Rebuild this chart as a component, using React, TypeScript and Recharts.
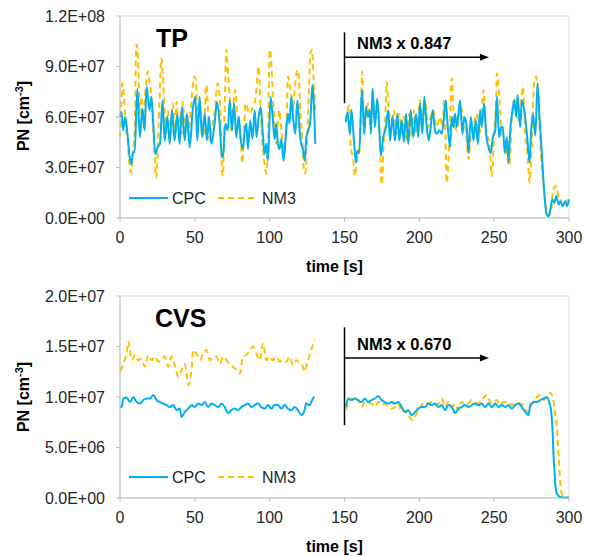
import React from 'react';
import { LineChart, Line, XAxis, YAxis, ReferenceArea, ReferenceLine } from 'recharts';

// values in 1e6 cm^-3, [time s, value]; each run is split in two parts (0-130 s, 150-300 s)
const tpCpcA: [number, number][] = [
  [0, 60], [1, 63], [2, 52], [3.5, 60], [5, 50], [6.5, 36], [7.6, 32], [8.7, 39], [9.8, 39], [11.6, 77],
  [13.3, 48], [15, 65], [16.4, 52], [17.8, 78], [19.6, 64], [21, 72], [22.2, 56], [23.6, 38], [25, 42], [26.7, 44],
  [28.4, 70], [29.8, 46], [31.6, 60], [33.2, 44], [34.7, 64], [36.5, 46], [38.3, 62], [39.8, 44], [41.4, 66], [43.2, 46],
  [44.8, 62], [46.5, 42], [48.8, 66], [50.3, 72], [51.7, 46], [53.2, 72], [54.8, 48], [56.6, 62], [58.1, 46], [59.5, 60],
  [61, 44], [63.2, 56], [64.8, 69], [66.6, 56], [68.1, 36], [69, 38], [70.4, 56], [72, 52], [73.3, 70], [74.8, 52],
  [76.2, 68], [77.7, 48], [79.3, 60], [80.6, 47], [82.2, 41], [83.3, 52], [84.4, 56], [85.5, 41], [87, 58], [88.5, 47],
  [90, 64], [91.2, 48], [92.6, 60], [94, 66], [95.3, 52], [96.6, 38], [97.8, 44], [98.9, 34], [100.6, 72], [102, 60],
  [103.3, 47], [104.4, 56], [105.5, 44], [106.6, 41], [107.8, 47], [109.3, 34], [111, 52], [112.3, 62], [113.3, 56], [114.4, 72],
  [115.6, 60], [117.1, 50], [118.5, 70], [120, 52], [121, 44], [122.2, 41], [123.4, 34], [124.5, 48], [125.8, 52], [127.2, 58],
  [128.5, 79], [129.5, 68], [130.5, 44],
];
const tpCpcB: [number, number][] = [
  [150.9, 57], [152, 63], [153.6, 50], [154.7, 64], [156.3, 46], [157.6, 33], [158.5, 40], [159.8, 38.5], [161.6, 76], [163.2, 50],
  [164.3, 66], [165.8, 60], [167, 64], [167.6, 50], [168.8, 77], [170.3, 54], [171.9, 71], [173.2, 54], [174.3, 37], [175.9, 48],
  [177.7, 54], [179.2, 64], [180.4, 46], [182.1, 60], [183.7, 46], [185.3, 62], [186.6, 46], [188.2, 58], [189.7, 45], [191.1, 62],
  [192.6, 44], [194.2, 64], [196, 48], [197.8, 62], [199.3, 48], [200.4, 68], [202, 50], [203.3, 72], [204.9, 54], [206.3, 46],
  [207.6, 54], [208.9, 64], [210.5, 52], [211.6, 50], [213.4, 52], [215, 50], [216.5, 60], [217.6, 70], [219, 54], [220.5, 42],
  [221.7, 60], [222.8, 54], [223.9, 62], [225, 54], [227.2, 70], [228.8, 50], [230.1, 60], [231.7, 54], [232.8, 38.5], [234.4, 60],
  [236.2, 46], [237.7, 58], [239.1, 44], [240.6, 64], [241.7, 54], [243.3, 68], [244.6, 50], [246.2, 42], [247.8, 38.5], [249.1, 48],
  [250.7, 52], [251.8, 72], [253.3, 48], [254.7, 54], [255.8, 54], [257.1, 38.5], [258.5, 48], [259.6, 33], [260.7, 52], [262.3, 64],
  [263.4, 70], [264.7, 60], [265.6, 73], [267.4, 54], [268.5, 70], [270.1, 64], [271.9, 50], [273.7, 33], [274.6, 50], [275.9, 62],
  [277.5, 49], [279, 80], [280.4, 58], [281.3, 46], [282.6, 27], [283.7, 13], [284.8, 3], [286.2, 1], [287.5, 5], [288.8, 11],
  [290.2, 9], [291.5, 13], [293.1, 8], [294.2, 10], [295.8, 7], [297.5, 10], [298.7, 7], [300, 11],
];
const tpNm3A: [number, number][] = [
  [0, 48], [0.8, 66], [1.5, 80], [2.7, 72], [3.6, 56], [5, 47], [6.5, 30], [7.3, 27], [8.7, 40], [9.8, 52],
  [10.9, 103], [12, 96], [12.6, 79], [13.2, 62], [14.2, 72], [15.4, 60], [17, 76], [18.7, 87], [19.8, 80], [20.6, 76],
  [21.4, 66], [22.6, 46], [24.3, 24], [25.4, 46], [26.5, 72], [27.6, 95], [28.6, 86], [29.8, 64], [31, 50], [32, 64],
  [33.5, 48], [35.4, 68], [36.8, 50], [37.8, 69], [39, 52], [40.4, 63], [41.2, 50], [42, 69], [43.4, 50], [44.6, 62],
  [46, 48], [47.4, 66], [49.8, 84], [50.8, 80], [51.8, 60], [52.8, 58], [53.8, 62], [54.8, 52], [56, 48], [57.7, 79],
  [58.8, 64], [59.8, 46], [61.5, 54], [63.2, 62], [65.2, 80], [66.2, 76], [67.2, 60], [68.1, 28], [68.8, 25], [69.5, 48],
  [70.4, 82], [71, 100], [72, 88], [73.3, 72], [74.4, 52], [75.5, 64], [77, 76], [78.3, 64], [79.2, 60], [80.6, 47],
  [81.7, 32.5], [82.8, 49], [83.9, 68], [85, 66], [86.6, 62], [88.8, 66], [90.5, 71], [91.8, 84], [92.6, 90], [94, 64],
  [95.1, 44], [96.6, 32.5], [97.8, 26.5], [98.9, 47], [100, 100], [101.1, 92], [102.2, 72], [103.3, 56], [104.4, 44], [105.5, 56],
  [106.6, 64], [107.8, 52], [108.9, 44], [110, 40], [111.1, 52], [112.3, 84], [113.3, 80], [114.4, 74], [115.6, 64], [116.7, 76],
  [118.5, 88], [119.4, 84], [120.7, 60], [121.8, 48], [123, 28], [123.9, 26.5], [125.2, 52], [126.1, 72], [127.2, 98], [128.3, 100],
  [129.4, 82], [130.5, 64],
];
const tpNm3B: [number, number][] = [
  [150.9, 58], [152, 64], [153.1, 67], [154.2, 42], [155.8, 35], [156.9, 25], [158.5, 35], [159.8, 38.5], [161.2, 70], [161.8, 87],
  [163.2, 50], [164.7, 64], [165.8, 68], [167.4, 54], [168.8, 70], [170.3, 62], [171.9, 64], [173.7, 44], [174.8, 20], [176.3, 46],
  [177.7, 70], [178.1, 81], [179.9, 62], [181.5, 58], [183, 64], [184.8, 50], [186.6, 62], [188.2, 50], [189.7, 60], [191.5, 46],
  [193.3, 62], [194.9, 48], [196.4, 64], [198.2, 50], [200.4, 70], [202, 54], [203.8, 70], [206, 54], [207.6, 60], [209.4, 64],
  [211.6, 54], [213.8, 60], [215.6, 54], [216.5, 70], [217.4, 50], [218.3, 21], [220.1, 46], [221.7, 83], [223.2, 58], [225, 52],
  [227.2, 66], [229.5, 60], [231.3, 50], [232.8, 35], [234.4, 48], [236.2, 54], [238.4, 62], [240.2, 50], [241.7, 64], [242.9, 76],
  [244.6, 52], [246.9, 44], [248.4, 25], [250, 50], [251.3, 70], [251.8, 86], [253.6, 70], [255.1, 50], [257.4, 44], [258.9, 35],
  [260.3, 31], [261.8, 60], [263.4, 70], [265.2, 66], [266.3, 58], [267.4, 64], [269.2, 78], [270.8, 50], [272.3, 37], [273.7, 21],
  [275.2, 46], [276.8, 82], [278.1, 84], [279, 76], [280.4, 54], [281.3, 37], [282.6, 23], [284.2, 9], [285.3, 3], [286.4, 1],
  [287.9, 3], [289.3, 15], [290.8, 19], [292, 17], [293.8, 9], [295.3, 11], [297.5, 10], [300, 11],
];

const cvsCpcA: [number, number][] = [
  [0, 9.0], [1.1, 9.0], [2.2, 9.85], [4.4, 9.95], [6.7, 9.5], [8.9, 10.0], [11.1, 9.5], [13.3, 9.35], [15.6, 9.7], [17.8, 9.85],
  [20, 9.85], [22.2, 10.2], [24.4, 9.7], [26.7, 9.5], [28.9, 9.35], [31.1, 9.2], [33.3, 9.0], [35.6, 9.2], [37.8, 8.7], [40, 8.85],
  [41.1, 8.0], [43.3, 8.5], [45.6, 8.85], [47.8, 9.2], [50, 9.0], [52.2, 9.35], [54.4, 9.2], [56.7, 9.5], [58.9, 9.0], [61.1, 9.35],
  [63.3, 9.2], [65.6, 9.0], [67.8, 9.35], [70, 9.0], [72.2, 8.4], [74.4, 8.7], [76.7, 8.85], [78.9, 8.7], [81.1, 9.0], [83.3, 9.2],
  [85.6, 9.35], [87.8, 9.0], [90, 9.2], [92.2, 9.35], [94.4, 9.0], [96.7, 8.85], [98.9, 9.2], [101.1, 8.85], [103.3, 9.2], [105.6, 9.2],
  [107.8, 8.85], [110, 9.2], [112.2, 8.85], [114.4, 8.7], [116.7, 9.0], [118.9, 8.7], [121.1, 8.2], [123.3, 8.7], [124.4, 9.35], [126.7, 9.2],
  [128.9, 9.85], [130, 10.0],
];
const cvsCpcB: [number, number][] = [
  [150.9, 9.0], [152.5, 9.85], [154.7, 9.7], [156.9, 9.85], [159.2, 9.7], [161.4, 9.5], [163.6, 9.85], [165.8, 9.5], [168.1, 9.7], [170.3, 9.85],
  [172.5, 10.1], [174.8, 9.7], [177, 9.5], [179.2, 9.35], [181.5, 9.5], [183.7, 9.35], [185.9, 9.5], [188.2, 9.0], [190.4, 8.5], [192.6, 8.7],
  [194.9, 8.2], [197.1, 8.5], [199.3, 8.85], [201.6, 9.0], [203.8, 9.0], [206, 9.35], [208.3, 9.2], [210.5, 9.35], [212.7, 9.0], [215, 9.2],
  [217.2, 8.7], [219.4, 9.2], [221.7, 9.0], [223.9, 8.4], [226.1, 8.85], [228.3, 9.0], [230.6, 9.2], [232.8, 9.0], [235, 9.2], [237.3, 9.35],
  [239.5, 9.2], [241.7, 9.35], [244, 9.0], [246.2, 9.35], [248.4, 9.0], [250.7, 9.35], [252.9, 9.0], [255.1, 9.2], [257.4, 9.0], [259.6, 9.2],
  [261.8, 8.85], [264.1, 9.2], [266.3, 9.35], [268.5, 9.0], [270.8, 8.5], [273, 8.2], [274.1, 9.2], [276.3, 9.5], [278.6, 9.5], [280.8, 9.7],
  [283, 9.85], [285.3, 10.0], [287, 9.35], [288, 8.7], [288.6, 7.7], [289.3, 5.7], [289.7, 4.1], [290.4, 2.4], [290.8, 1.4], [292, 0.4],
  [294.2, 0.1], [300, 0.03],
];
const cvsNm3A: [number, number][] = [
  [0, 12.6], [1.1, 12.8], [2.7, 13.5], [4.4, 14.3], [5.6, 15.5], [6.7, 14.6], [7.8, 13.65], [10, 14.15], [12.2, 13.65], [14.4, 13.8],
  [16.7, 13.0], [18.9, 14.15], [21.1, 13.65], [23.3, 14.0], [25.6, 13.5], [27.8, 13.65], [30, 14.0], [32.2, 13.0], [34.4, 14.0], [36.7, 13.15],
  [38.9, 12.0], [41.1, 12.65], [43.3, 13.3], [45.6, 11.2], [47.8, 12.65], [48.9, 14.65], [51.1, 14.3], [53.3, 13.65], [55.6, 14.3], [57.8, 14.65],
  [60, 13.65], [62.2, 14.0], [64.4, 14.0], [66.7, 13.3], [68.9, 14.0], [71.1, 13.65], [73.3, 13.3], [75.6, 13.0], [77.8, 12.65], [80, 12.3],
  [82.2, 14.0], [84.4, 14.15], [86.7, 14.65], [88.9, 15.0], [91.1, 14.3], [93.3, 13.65], [95.6, 15.3], [97.8, 13.65], [100, 14.0], [102.2, 13.65],
  [104.4, 14.0], [106.7, 13.5], [108.9, 13.65], [111.1, 13.5], [113.3, 14.0], [115.6, 13.15], [117.8, 13.65], [120, 13.3], [122.2, 13.0], [123.3, 12.5],
  [125.6, 13.65], [127.8, 14.65], [130, 15.65],
];
const cvsNm3B: [number, number][] = [
  [150.9, 8.7], [152.5, 9.35], [154.7, 9.85], [156.9, 9.5], [159.2, 9.7], [161.4, 9.0], [163.6, 9.5], [165.8, 9.35], [168.1, 9.35], [170.3, 9.0],
  [172.5, 9.5], [174.8, 9.2], [177, 9.35], [179.2, 9.0], [181.5, 8.85], [183.7, 9.0], [185.9, 9.35], [188.2, 8.5], [190.4, 8.7], [192.6, 8.2],
  [194.4, 7.85], [196, 7.7], [197.1, 8.0], [199.3, 8.7], [201.6, 9.2], [203.8, 9.5], [206, 9.35], [208.3, 9.5], [210.5, 9.2], [212.7, 9.35],
  [215, 9.85], [217.2, 9.0], [219.4, 9.5], [221.7, 9.0], [223.9, 9.35], [226.1, 8.7], [228.3, 9.5], [230.6, 9.2], [232.8, 9.35], [235, 9.7],
  [237.3, 9.5], [239.5, 9.35], [241.7, 9.7], [245.1, 10.2], [247.3, 9.5], [249.6, 9.35], [251.8, 9.7], [254, 9.2], [256.3, 9.5], [258.5, 9.5],
  [260.7, 9.35], [262.9, 9.2], [265.2, 9.5], [267.4, 9.35], [269.6, 9.2], [271.9, 8.5], [274.1, 9.0], [276.3, 9.5], [278.6, 10.0], [280.8, 10.2],
  [283, 9.7], [285.3, 10.0], [287.5, 10.4], [288.6, 10.2], [289.7, 9.5], [290.8, 8.35], [292, 6.7], [293.1, 4.1], [294.2, 1.4], [295.3, 0.4],
  [297.5, 0.1], [300, 0.03],
];

const TIME_TICKS = [0, 50, 100, 150, 200, 250, 300];
const TP_TICKS = [0, 3e7, 6e7, 9e7, 1.2e8];
const CVS_TICKS = [0, 5e6, 1e7, 1.5e7, 2e7];
const GAP_T = 140;

// annotation: [scale factor text, bar top, bar bottom, arrow level, arrow end time]
const TP_NOTE = { text: 'NM3 x 0.847', top: 1.103e8, bottom: 6.82e7, arrowY: 9.55e7, arrowEnd: 246.5 };
const CVS_NOTE = { text: 'NM3 x 0.670', top: 1.69e7, bottom: 7.2e6, arrowY: 1.386e7, arrowEnd: 246.5 };

const CPC_COLOR = '#00B0F0';
const NM3_COLOR = '#FFC000';
const FONT = 'Arial, "Liberation Sans", sans-serif';
const AXIS_COLOR = '#BFBFBF';

const toRows = (a: [number, number][], b: [number, number][]) => [
  ...a.map(([t, v]) => ({ t, v: v * 1e6 })),
  { t: GAP_T, v: null },
  ...b.map(([t, v]) => ({ t, v: v * 1e6 })),
];

const sciFormat = (v: number) => {
  const [m, e] = v.toExponential(1).split('e');
  const n = parseInt(e, 10);
  return `${m}E${n < 0 ? '-' : '+'}${String(Math.abs(n)).padStart(2, '0')}`;
};

const Arrow = (props: any) => {
  const { x1, y1, x2, y2, text } = props;
  return (
    <g>
      <line x1={x1} y1={y1} x2={x2 - 7} y2={y2} stroke="#000" strokeWidth={1.5} />
      <polygon points={`${x2},${y2} ${x2 - 9},${y2 - 3.5} ${x2 - 9},${y2 + 3.5}`} fill="#000" />
      <text x={x1 + 12.5} y={y1 - 8.5} fontFamily={FONT} fontWeight="bold" fontSize={16.5} fill="#000">
        {text}
      </text>
    </g>
  );
};

interface PanelProps {
  cpc: any[];
  nm3: any[];
  yMax: number;
  yTicks: number[];
  note: typeof TP_NOTE;
}

const Panel = ({ cpc, nm3, yMax, yTicks, note }: PanelProps) => (
  <LineChart width={592} height={278} margin={{ top: 16, right: 23, bottom: 30, left: 0 }}>
    <ReferenceArea x1={0} x2={300} y1={0} y2={yMax} fill="none" stroke="#D9D9D9" strokeWidth={1} />
    <XAxis
      type="number"
      dataKey="t"
      domain={[0, 300]}
      ticks={TIME_TICKS}
      height={30}
      tickSize={4}
      tickMargin={10}
      axisLine={{ stroke: AXIS_COLOR }}
      tickLine={{ stroke: AXIS_COLOR }}
      tick={{ fill: '#262626', fontSize: 16, fontFamily: FONT }}
      label={{
        content: (p: any) => {
          const vb = p.viewBox;
          return (
            <text x={vb.x + vb.width / 2 - 10} y={vb.y + vb.height + 23.5} textAnchor="middle"
              fontFamily={FONT} fontWeight="bold" fontSize={16} fill="#000">
              time [s]
            </text>
          );
        },
      }}
    />
    <YAxis
      type="number"
      domain={[0, yMax]}
      ticks={yTicks}
      width={120}
      tickSize={4}
      tickMargin={11}
      tickFormatter={sciFormat}
      axisLine={{ stroke: AXIS_COLOR }}
      tickLine={{ stroke: AXIS_COLOR }}
      tick={{ fill: '#262626', fontSize: 16, fontFamily: FONT }}
    />
    <ReferenceLine segment={[{ x: 150, y: note.top }, { x: 150, y: note.bottom }]} stroke="#000" strokeWidth={1.5} />
    <ReferenceLine
      segment={[{ x: 150, y: note.arrowY }, { x: note.arrowEnd, y: note.arrowY }]}
      shape={(p: any) => <Arrow {...p} text={note.text} />}
    />
    <Line data={nm3} dataKey="v" name="NM3" type="monotone" stroke={NM3_COLOR} strokeWidth={2}
      strokeDasharray="6 4" dot={false} isAnimationActive={false} />
    <Line data={cpc} dataKey="v" name="CPC" type="monotone" stroke={CPC_COLOR} strokeWidth={2}
      dot={false} isAnimationActive={false} />
  </LineChart>
);

const Legend = ({ y }: { y: number }) => (
  <g fontFamily={FONT} fontSize={16} fill="#262626">
    <line x1={129} x2={168} y1={y} y2={y} stroke={CPC_COLOR} strokeWidth={2} />
    <text x={172} y={y + 6}>CPC</text>
    <line x1={218} x2={257} y1={y} y2={y} stroke={NM3_COLOR} strokeWidth={2} strokeDasharray="6 4" />
    <text x={262} y={y + 6}>NM3</text>
  </g>
);

const YTitle = ({ cy }: { cy: number }) => (
  <text transform={`translate(29,${cy}) rotate(-90)`} textAnchor="middle" fontFamily={FONT}
    fontWeight="bold" fontSize={16} fill="#000">
    PN [cm<tspan dy={-6} fontSize={11}>-3</tspan><tspan dy={6}>]</tspan>
  </text>
);

export default function App() {
  const tpCpc = toRows(tpCpcA, tpCpcB);
  const tpNm3 = toRows(tpNm3A, tpNm3B);
  const cvsCpc = toRows(cvsCpcA, cvsCpcB);
  const cvsNm3 = toRows(cvsNm3A, cvsNm3B);

  return (
    <div style={{ position: 'absolute', left: 0, top: 0, width: 592, height: 556, background: '#fff' }}>
      <div style={{ position: 'absolute', left: 0, top: 0 }}>
        <Panel cpc={tpCpc} nm3={tpNm3} yMax={1.2e8} yTicks={TP_TICKS} note={TP_NOTE} />
      </div>
      <div style={{ position: 'absolute', left: 0, top: 280 }}>
        <Panel cpc={cvsCpc} nm3={cvsNm3} yMax={2e7} yTicks={CVS_TICKS} note={CVS_NOTE} />
      </div>
      <svg width={592} height={556} style={{ position: 'absolute', left: 0, top: 0, pointerEvents: 'none' }}>
        <text x={156} y={46.5} fontFamily={FONT} fontWeight="bold" fontSize={25} fill="#000">TP</text>
        <text x={155} y={326.5} fontFamily={FONT} fontWeight="bold" fontSize={25} fill="#000">CVS</text>
        <YTitle cy={116} />
        <YTitle cy={397} />
        <Legend y={198} />
        <Legend y={477} />
      </svg>
    </div>
  );
}
